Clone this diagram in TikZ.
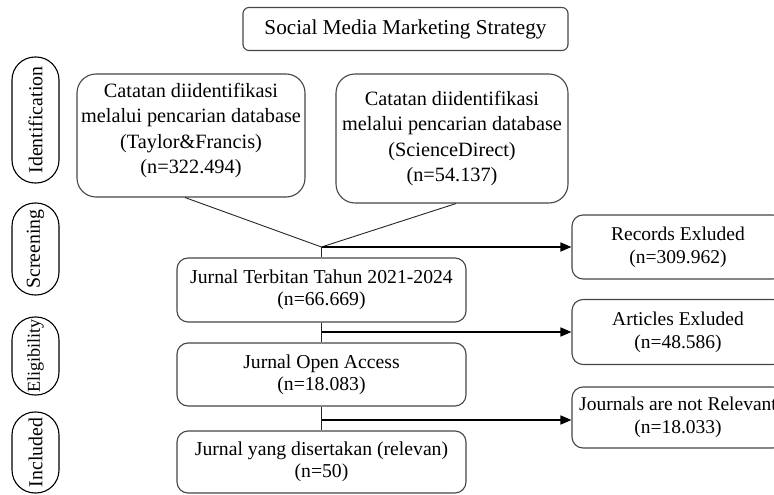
\documentclass[tikz,border=0pt]{standalone}
\usepackage{fontspec}
\setmainfont{Liberation Serif}
\usetikzlibrary{calc,arrows.meta}
\definecolor{edge}{RGB}{70,70,70}
\tikzset{
  txt/.style={font=\fontsize{19.7}{21.8}\selectfont, text=black, align=center, inner sep=0pt},
  card/.style={txt, draw=edge, line width=1.1pt, rounded corners=11pt},
  bigcard/.style={txt, draw=edge, line width=1.1pt, rounded corners=19pt,
    font=\fontsize{20.3}{25.3}\selectfont},
  sidecard/.style={card, font=\fontsize{19.5}{23}\selectfont},
  pill/.style={txt, draw=black, line width=1.1pt, rounded corners=23pt, rotate=90,
    font=\fontsize{19.8}{22}\selectfont},
  mergeline/.style={draw=black!85, line width=0.9pt},
  flow/.style={draw=black, line width=1.6pt},
  arr/.style={flow, -{Triangle[length=11pt,width=9pt]}},
}
\begin{document}
\begin{tikzpicture}[x=1pt,y=-1pt]
\clip (0,0) rectangle (774,495);
\fill[white] (0,0) rectangle (774,495);

% title
\node[card, rounded corners=6pt, minimum width=325pt, minimum height=43pt,
  font=\fontsize{21.2}{24}\selectfont] (title) at (405.5,29) {Social Media Marketing Strategy};

% phase labels
\node[pill, minimum width=126pt, minimum height=47pt] (pid) at (35.5,120) {Identification};
\node[pill, minimum width=92pt, minimum height=47pt] (pscr) at (35.5,249) {Screening};
\node[pill, minimum width=78pt, minimum height=47pt, font=\fontsize{18.2}{20}\selectfont] (pel) at (35.5,356) {Eligibility};
\node[pill, minimum width=81pt, minimum height=47pt] (pinc) at (35.5,452.5) {Included};

% identification
\node[bigcard, minimum width=228pt, minimum height=123pt] (id1) at (191,135.5) {};
\node[txt, font=\fontsize{20.3}{25.3}\selectfont] (id1t) at ($(id1.center)+(0,-5)$)
  {Catatan diidentifikasi\\melalui pencarian database\\(Taylor\&Francis)\\(n=322.494)};
\node[bigcard, minimum width=232pt, minimum height=129pt] (id2) at (452,138.5)
  {Catatan diidentifikasi\\melalui pencarian database\\(ScienceDirect)\\(n=54.137)};

% main flow
\node[card, minimum width=289pt, minimum height=64pt] (scr) at (321.5,290)
  {Jurnal Terbitan Tahun 2021-2024\\(n=66.669)};
\node[card, minimum width=289pt, minimum height=63pt] (oa) at (321.5,374.5)
  {Jurnal Open Access\\(n=18.083)};
\node[card, minimum width=289pt, minimum height=62pt] (inc) at (321.5,462)
  {Jurnal yang disertakan (relevan)\\(n=50)};

% exclusions
\node[sidecard, minimum width=212pt, minimum height=64pt] (rec) at (678,247)
  {Records Exluded\\(n=309.962)};
\node[sidecard, minimum width=212pt, minimum height=65pt] (art) at (678,332)
  {Articles Exluded\\(n=48.586)};
\node[sidecard, minimum width=212pt, minimum height=61pt] (jnr) at (678,417.5)
  {Journals are not Relevant\\(n=18.033)};

% connectors
\coordinate (m) at (321.5,247);
\coordinate (c2) at (321.5,332);
\coordinate (c3) at (321.5,420);
\draw[mergeline] ($(id1.south west)!0.474!(id1.south east)$) -- (m);
\draw[mergeline] ($(id2.south west)!0.517!(id2.south east)$) -- (m);
\draw[mergeline] (m) -- (scr.north);
\draw[arr] (m) -- (m -| rec.west);
\draw[mergeline] (scr.south) -- (oa.north);
\draw[arr] (c2) -- (c2 -| art.west);
\draw[mergeline] (oa.south) -- (inc.north);
\draw[arr] (c3) -- (c3 -| jnr.west);
\end{tikzpicture}
\end{document}
